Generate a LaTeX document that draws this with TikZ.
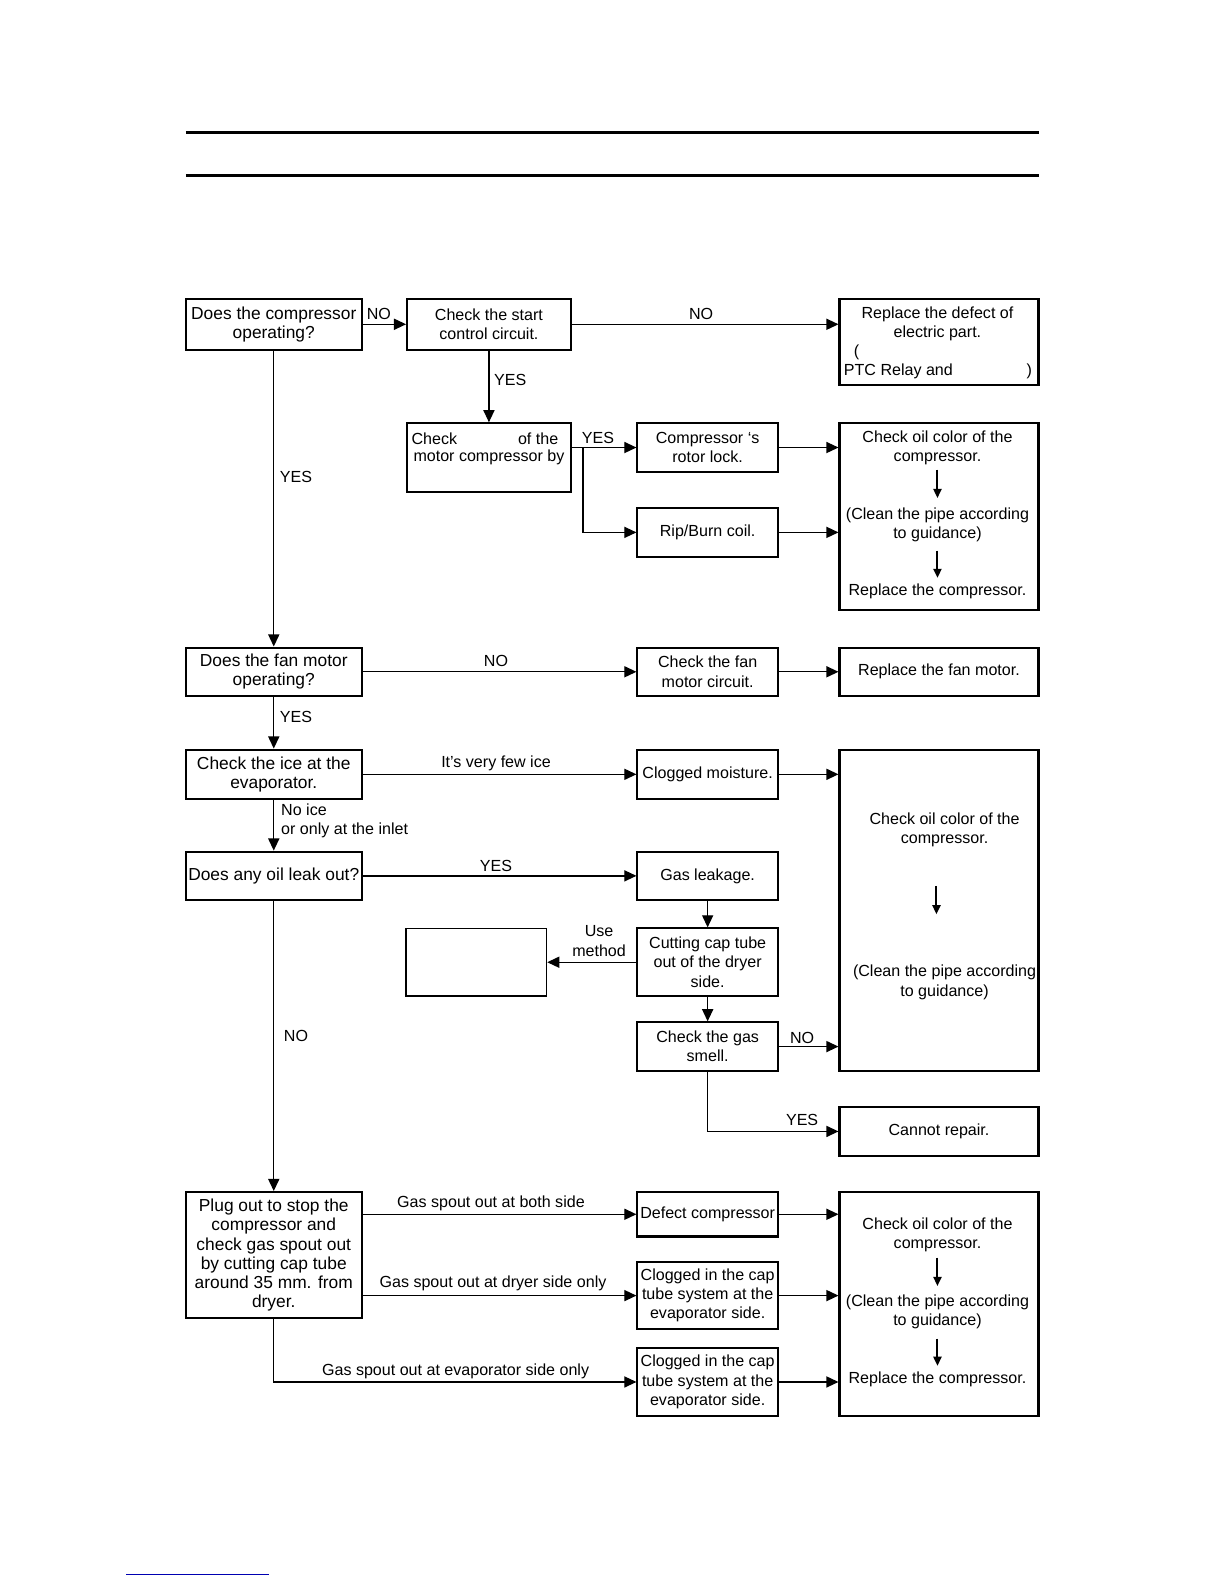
\documentclass[tikz,border=0pt]{standalone}
\usepackage{fontspec}
\setmainfont{Liberation Sans}
\usetikzlibrary{arrows.meta}
\newcommand{\myfs}{\fontsize{7.95}{9.5}\selectfont}
\newcommand{\bigfs}{\fontsize{8.6}{9.5}\selectfont}
\begin{document}
\begin{tikzpicture}[x=0.5pt,y=-0.5pt,
  box/.style={draw, line width=1pt, inner sep=0pt, align=center, font=\myfs},
  lbox/.style={box, font=\bigfs},
  txt/.style={inner sep=0pt, align=center, font=\myfs},
  arr/.style={line width=0.65pt, -{Triangle[length=6pt,width=5.5pt]}},
  inarr/.style={line width=1pt, -{Triangle[length=4.5pt,width=4pt]}},
  rule/.style={line width=1.5pt}]
\useasboundingbox (0,0) rectangle (1212,1568);
% top rules
\coordinate (r1a) at (184,131); \coordinate (r1b) at (1028,131);
\coordinate (r2a) at (184,174); \coordinate (r2b) at (1028,174);
\draw[rule] (r1a) -- (r1b);
\draw[rule] (r2a) -- (r2b);
% bottom faint line
\coordinate (f1) at (125,1559); \coordinate (f2) at (266,1559);
\draw[blue!70!black, line width=0.5pt] (f1) -- (f2);

% boxes
\node[lbox, minimum width=87pt, minimum height=25pt] (A) at (271,321) {Does the compressor\\operating?};
\node[box, minimum width=81pt, minimum height=25pt] (B) at (484,321) {Check the start\\control circuit.};
\node[box, minimum width=98.5pt, minimum height=42.5pt] (C) at (929.5,338.5) {};
\node[txt] (c1) at (928,320.5) {Replace the defect of\\electric part.};
\node[txt] (c2) at (848,349) {(};
\node[txt, anchor=west] (c3) at (835,368) {PTC Relay and};
\node[txt] (c4) at (1019,368) {)};

\node[box, minimum width=81pt, minimum height=34pt] (D) at (484,453) {};
\node[txt, anchor=west] (d1) at (407,434) {Check};
\node[txt, anchor=east] (d2) at (553,434) {of the};
\node[txt] (d3) at (484,453) {motor compressor by};

\node[box, minimum width=69.5pt, minimum height=24pt] (E) at (700.5,443) {Compressor ‘s\\rotor lock.};
\node[box, minimum width=69.5pt, minimum height=24pt] (F) at (700.5,527) {Rip/Burn coil.};

\node[box, minimum width=98.5pt, minimum height=92.5pt] (G) at (929.5,511.5) {};
\node[txt] (g1) at (928,443.5) {Check oil color of the\\compressor.};
\node[txt] (g2) at (928,519.5) {(Clean the pipe according\\to guidance)};
\node[txt] (g3) at (928,585) {Replace the compressor.};
\coordinate (ga1) at (928,465); \coordinate (ga2) at (928,493);
\coordinate (ga3) at (928,545); \coordinate (ga4) at (928,572);
\draw[inarr] (ga1) -- (ga2);
\draw[inarr] (ga3) -- (ga4);

\node[lbox, minimum width=87pt, minimum height=24pt] (H) at (271,665) {Does the fan motor\\operating?};
\node[box, minimum width=69.5pt, minimum height=24pt] (I) at (700.5,665) {Check the fan\\motor circuit.};
\node[box, minimum width=98.5pt, minimum height=24pt] (J) at (929.5,665) {Replace the fan motor.};

\node[lbox, minimum width=87pt, minimum height=24.5pt] (K) at (271,766.5) {Check the ice at the\\evaporator.};
\node[box, minimum width=69.5pt, minimum height=24.5pt] (L) at (700.5,766.5) {Clogged moisture.};

\node[box, minimum width=98.5pt, minimum height=159pt] (M) at (929.5,901) {};
\node[txt] (m1) at (935,821.5) {Check oil color of the\\compressor.};
\node[txt] (m2) at (935,972.5) {(Clean the pipe according\\to guidance)};
\coordinate (ma1) at (927,877); \coordinate (ma2) at (927,905);
\draw[inarr] (ma1) -- (ma2);

\node[lbox, minimum width=87pt, minimum height=24pt] (N) at (271,867) {Does any oil leak out?};
\node[box, minimum width=69.5pt, minimum height=24pt] (O) at (700.5,867) {Gas leakage.};
\node[box, minimum width=69.5pt, minimum height=33.5pt] (P) at (700.5,952.5) {Cutting cap tube\\out of the dryer\\side.};
\node[box, line width=0.7pt, minimum width=69.5pt, minimum height=33.5pt] (Q) at (471.5,952.5) {};
\node[box, minimum width=69.5pt, minimum height=24pt] (R) at (700.5,1036) {Check the gas\\smell.};
\node[box, minimum width=98.5pt, minimum height=24pt] (S) at (929.5,1120) {Cannot repair.};

\node[lbox, minimum width=87pt, minimum height=62.5pt] (T) at (271,1242.5) {Plug out to stop the\\compressor and\\check gas spout out\\by cutting cap tube\\around 35 mm. from\\dryer.};
\node[box, minimum width=69.5pt, minimum height=22pt] (U) at (700.5,1202) {Defect compressor};
\node[box, minimum width=69.5pt, minimum height=33.5pt] (V) at (700.5,1282.5) {Clogged in the cap\\tube system at the\\evaporator side.};
\node[box, minimum width=69.5pt, minimum height=34pt] (W) at (700.5,1368) {Clogged in the cap\\tube system at the\\evaporator side.};

\node[box, minimum width=98.5pt, minimum height=111pt] (X) at (929.5,1291) {};
\node[txt] (x1) at (928,1222.5) {Check oil color of the\\compressor.};
\node[txt] (x2) at (928,1298.5) {(Clean the pipe according\\to guidance)};
\node[txt] (x3) at (928,1365) {Replace the compressor.};
\coordinate (xa1) at (928,1245); \coordinate (xa2) at (928,1273);
\coordinate (xa3) at (928,1325); \coordinate (xa4) at (928,1352);
\draw[inarr] (xa1) -- (xa2);
\draw[inarr] (xa3) -- (xa4);

% connectors
\draw[arr] (A.east) -- (B.west);
\draw[arr] (B.east) -- (B.east -| C.west);
\draw[arr] (B.south) -- (D.north);
\draw[arr] (A.south) -- (H.north);
\draw[arr] (E.west -| D.east) -- (E.west);
\coordinate (br) at (577,443);
\draw[arr] (br) |- (F.west);
\draw[arr] (E.east) -- (E.east -| G.west);
\draw[arr] (F.east) -- (F.east -| G.west);
\draw[arr] (H.east) -- (I.west);
\draw[arr] (I.east) -- (J.west);
\draw[arr] (H.south) -- (K.north);
\draw[arr] (K.east) -- (L.west);
\draw[arr] (L.east) -- (L.east -| M.west);
\draw[arr] (K.south) -- (N.north);
\draw[arr] (N.east) -- (O.west);
\draw[arr] (O.south) -- (P.north);
\draw[arr] (P.west) -- (Q.east);
\draw[arr] (P.south) -- (R.north);
\draw[arr] (R.east) -- (R.east -| M.west);
\draw[arr] (R.south) |- (S.west);
\draw[arr] (N.south) -- (T.north);
\draw[arr] (U.west -| T.east) -- (U.west);
\draw[arr] (V.west -| T.east) -- (V.west);
\draw[arr] (T.south) |- (W.west);
\draw[arr] (U.east) -- (U.east -| X.west);
\draw[arr] (V.east) -- (V.east -| X.west);
\draw[arr] (W.east) -- (W.east -| X.west);

% labels
\node[txt] (l1) at (375,311) {NO};
\node[txt] (l2) at (694,311) {NO};
\node[txt] (l3) at (505,376) {YES};
\node[txt] (l4) at (293,472) {YES};
\node[txt] (l5) at (592,434) {YES};
\node[txt] (l6) at (491,654) {NO};
\node[txt] (l7) at (293,710) {YES};
\node[txt] (l8) at (491,756) {It's very few ice};
\node[txt, anchor=west, align=left] (l9) at (278,812.5) {No ice\\or only at the inlet};
\node[txt] (l10) at (491,857) {YES};
\node[txt] (l11) at (593,931.5) {Use\\method};
\node[txt] (l12) at (794,1027) {NO};
\node[txt] (l13) at (794,1109) {YES};
\node[txt] (l14) at (293,1025) {NO};
\node[txt] (l15) at (486,1191) {Gas spout out at both side};
\node[txt] (l16) at (488,1270) {Gas spout out at dryer side only};
\node[txt] (l17) at (451,1357) {Gas spout out at evaporator side only};
\end{tikzpicture}
\end{document}
